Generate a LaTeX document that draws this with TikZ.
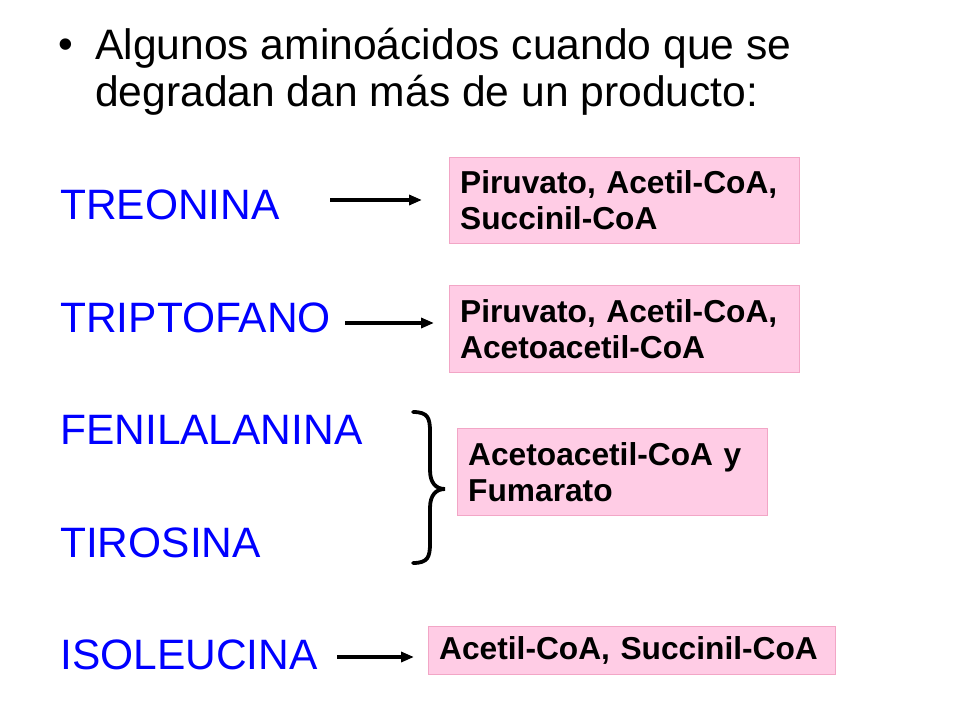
\documentclass[tikz,border=0pt]{standalone}
\usepackage{fontspec}
\setmainfont{Liberation Sans}
\usetikzlibrary{arrows.meta}
\definecolor{pinkfill}{HTML}{FFCCE5}
\definecolor{pinkline}{HTML}{F2A6C6}
\definecolor{amino}{HTML}{0000FF}
\begin{document}
\begin{tikzpicture}[x=1pt,y=-1pt,
  aa/.style={anchor=west,text=amino,font=\fontsize{42.5}{48}\selectfont,inner sep=0},
  prod/.style={draw=pinkline,fill=pinkfill,anchor=north west,align=left,font=\fontsize{31.7}{36}\selectfont\bfseries,inner xsep=11pt,inner ysep=0},
  arr/.style={-{Triangle[length=13pt,width=10pt]},line width=3.5pt}]
\useasboundingbox (0,0) rectangle (960,720);
\node[anchor=west,inner sep=0,font=\fontsize{42}{47}\selectfont] (bul) at (58,49) {•};
\node[anchor=north west,align=left,inner sep=0,font=\fontsize{42.6}{47}\selectfont] (title) at (95,28) {Algunos aminoácidos cuando que se\\degradan dan más de un producto:};
\node[aa] (tre) at (60,205) {TREONINA};
\node[aa] (tri) at (60,318) {TRIPTOFANO};
\node[aa] (fen) at (60,430) {FENILALANINA};
\node[aa] (tir) at (60,543) {TIROSINA};
\node[aa] (iso) at (60,655) {ISOLEUCINA};
\node[prod,text width=328pt,minimum height=86pt] (p1) at (449,157) {\raisebox{-3pt}{}Piruvato, Acetil-CoA,\\Succinil-CoA};
\node[prod,text width=328pt,minimum height=87pt] (p2) at (449,285) {Piruvato, Acetil-CoA,\\Acetoacetil-CoA};
\node[prod,text width=288pt,minimum height=87pt] (p3) at (457,428) {Acetoacetil-CoA y\\Fumarato};
\node[prod,text width=385pt,minimum height=48pt] (p4) at (428,626) {Acetil-CoA, Succinil-CoA};
\coordinate (a1s) at (330,200); \coordinate (a1e) at (422,200);
\coordinate (a2s) at (345,323); \coordinate (a2e) at (434,323);
\coordinate (a4s) at (337,657); \coordinate (a4e) at (414,657);
\draw[arr] (a1s) -- (a1e);
\draw[arr] (a2s) -- (a2e);
\draw[arr] (a4s) -- (a4e);
\coordinate (bt) at (413,412); \coordinate (bm) at (445,489); \coordinate (bb) at (413,563);
\draw[line width=3.8pt,line cap=round] (bt) .. controls (428,412) and (430,418) .. (430,432)
  -- (430,470) .. controls (430,483) and (436,489) .. (bm)
  .. controls (436,489) and (430,495) .. (430,508)
  -- (430,543) .. controls (430,557) and (428,563) .. (bb);
\end{tikzpicture}
\end{document}
